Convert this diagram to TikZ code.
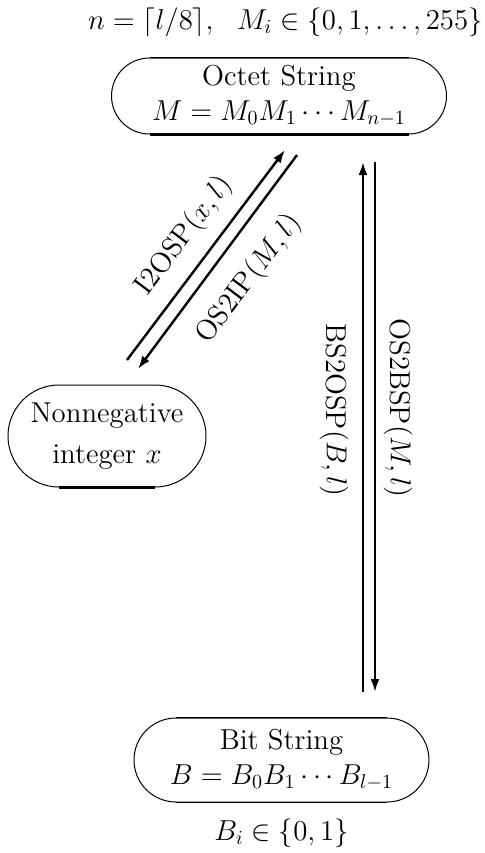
\documentclass[tikz,border=0pt]{standalone}
\usetikzlibrary{shapes.misc,arrows.meta}
\begin{document}
\begin{tikzpicture}[x=0.5pt,y=-0.5pt,
  every node/.style={font=\fontsize{14.4}{17.5}\selectfont},
  state/.style={rounded rectangle, draw, line width=0.5pt, align=center, inner sep=0pt},
  flat/.style={line width=1.2pt},
  midflat/.style={line width=0.8pt},
  conv/.style={line width=1.2pt, -{Latex[length=6.5pt,width=4.5pt]}},
  lbl/.style={inner sep=0pt}]
\useasboundingbox (0,0) rectangle (484,853);

% data representations
\node[state, minimum width=167.5pt, minimum height=38pt] (oct) at (279,96)
  {Octet String\\ $M=M_0M_1\cdots M_{n-1}$};
\node[state, minimum width=99pt, minimum height=51pt] (int) at (107,436)
  {Nonnegative\\[3pt] integer $x$};
\node[state, minimum width=147.5pt, minimum height=42pt] (bit) at (281.5,760)
  {Bit String\\ $B=B_0B_1\cdots B_{l-1}$};

% heavier straight edges of the rounded boxes
\draw[midflat] (oct.north west) -- (oct.north east);
\draw[flat] (oct.south west) -- (oct.south east);
\draw[flat] (int.south west) -- (int.south east);
\draw[midflat] (bit.north west) -- (bit.north east);
\draw[midflat] (bit.south west) -- (bit.south east);

% side conditions
\node[lbl, anchor=east] (octcond) at (483,22) {$n=\lceil l/8\rceil,\ \ M_i\in\{0,1,\ldots,255\}$};
\node[lbl] (bitcond) at (281.5,833) {$B_i\in\{0,1\}$};

% conversion primitives
\coordinate (i2a) at (127,360);
\coordinate (i2b) at (285,150);
\coordinate (o2a) at (297,155);
\coordinate (o2b) at (138,369);
\coordinate (b2a) at (363,692);
\coordinate (b2b) at (363,162);
\coordinate (o3a) at (375,162);
\coordinate (o3b) at (375,692);

\draw[conv] (i2a) -- (i2b);
\draw[conv] (o2a) -- (o2b);
\draw[conv] (b2a) -- (b2b);
\draw[conv] (o3a) -- (o3b);

\node[lbl, rotate=53] (i2osp) at (184,236) {I2OSP$(x,l)$};
\node[lbl, rotate=53] (os2ip) at (249,279) {OS2IP$(M,l)$};
\node[lbl, rotate=-90] (bs2osp) at (334,410) {BS2OSP$(B,l)$};
\node[lbl, rotate=-90] (os2bsp) at (398,408) {OS2BSP$(M,l)$};
\end{tikzpicture}
\end{document}
